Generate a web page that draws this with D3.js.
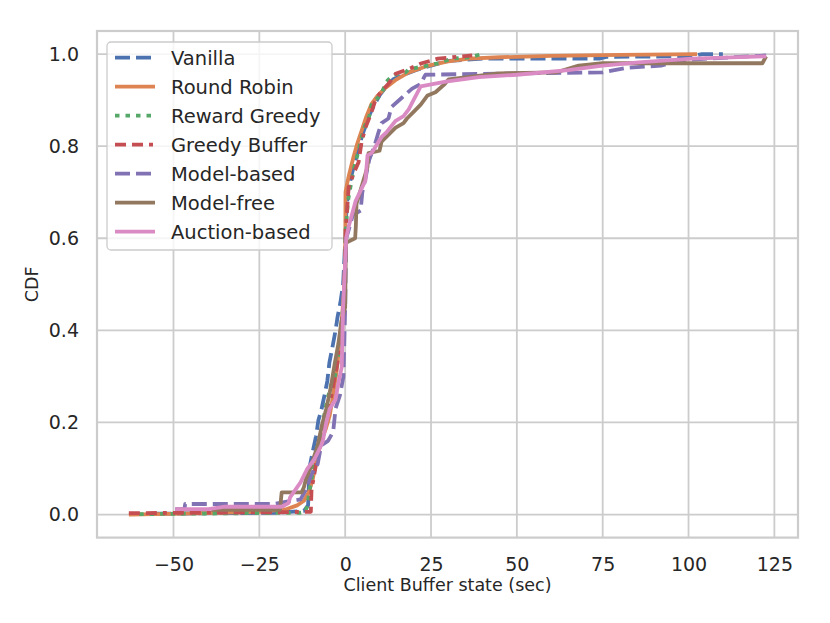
<!DOCTYPE html>
<html>
<head>
<meta charset="utf-8">
<script src="https://cdn.jsdelivr.net/npm/d3@7"></script>
<style>
  body { margin: 0; background: #fff; }
  text { font-family: "DejaVu Sans", sans-serif; fill: #262626; }
</style>
</head>
<body>
<svg id="chart"></svg>
<script>
var width = 830;
var height = 623;

// series names, in plotting order
var names = ['Vanilla', 'Round Robin', 'Reward Greedy', 'Greedy Buffer',
             'Model-based', 'Model-free', 'Auction-based'];

var vanilla = [[-55,0.002],[-20,0.004],[-12,0.008],[-10.8,0.02],[-10.6,0.06],[-10.3,0.105],[-9.5,0.135],
  [-8.5,0.17],[-7.8,0.205],[-7,0.225],[-6,0.26],[-5.2,0.29],[-4.6,0.33],[-3.8,0.36],[-2.8,0.40],
  [-2.2,0.43],[-1.4,0.46],[-0.6,0.5],[-0.2,0.56],[0.2,0.64],[0.8,0.7],[1.8,0.735],[2.8,0.765],
  [3.8,0.79],[4.8,0.82],[6,0.845],[7.2,0.87],[8.5,0.89],[10,0.91],[12,0.93],[14,0.945],[17,0.955],
  [20.5,0.965],[25,0.975],[30,0.985],[40,0.99],[74,0.99],[76,0.994],[101,0.995],[104,1.0],[110,1.0]];

var roundRobin = [[-63,0],[-40,0.003],[-25,0.006],[-17,0.012],[-14,0.02],[-12,0.03],[-10.5,0.05],
  [-9.5,0.075],[-8.7,0.105],[-7.8,0.135],[-7,0.16],[-5.7,0.185],[-4.5,0.215],[-3.5,0.26],[-2.5,0.31],
  [-1.8,0.36],[-1.0,0.42],[-0.4,0.48],[0,0.55],[0.1,0.70],[0.6,0.72],[1.2,0.74],[2.4,0.776],
  [3.5,0.805],[4.8,0.834],[6.2,0.865],[7.7,0.892],[9.5,0.91],[11.8,0.927],[15,0.945],[18.5,0.96],
  [24.3,0.975],[30,0.984],[36,0.99],[45,0.993],[60,0.996],[80,0.998],[102.5,1.0]];

var rewardGreedy = [[-60,0.001],[-13,0.004],[-11.5,0.006],[-10.8,0.03],[-10.2,0.06],[-9.5,0.09],
  [-8.7,0.135],[-7.5,0.16],[-6.5,0.2],[-5.5,0.24],[-4.2,0.28],[-3,0.3],[-2,0.34],[-1.2,0.4],
  [-0.5,0.46],[0,0.55],[0.2,0.62],[0.8,0.68],[1.5,0.71],[2.5,0.75],[3.9,0.79],[4.8,0.82],
  [5.8,0.845],[7,0.865],[7.7,0.89],[9.5,0.905],[10.6,0.915],[12,0.94],[14,0.955],[17.6,0.96],
  [18.5,0.967],[22,0.972],[27.2,0.98],[31,0.99],[36,0.993],[40,1.0]];

var greedyBuffer = [[-63,0.003],[-20,0.005],[-10,0.006],[-9.8,0.055],[-9.3,0.075],[-8.7,0.1],
  [-8,0.13],[-7,0.16],[-6,0.19],[-5,0.22],[-4,0.26],[-3,0.3],[-2,0.34],[-1.3,0.39],[-0.5,0.45],
  [0,0.55],[0.2,0.62],[1,0.71],[2.4,0.74],[3.9,0.765],[4.8,0.81],[5.9,0.84],[7.5,0.87],[8.8,0.9],
  [10.6,0.92],[12.6,0.935],[14.7,0.957],[19.3,0.97],[22.3,0.98],[27,0.99],[31,0.993],[37,0.997]];

var modelBased = [[-49.5,0.012],[-46.8,0.012],[-46.6,0.023],[-21,0.023],[-17,0.028],[-13,0.033],
  [-11,0.06],[-10,0.085],[-8,0.11],[-7,0.15],[-5,0.16],[-3.5,0.18],[-2.8,0.23],[-1.5,0.26],
  [-0.5,0.3],[0,0.45],[0.3,0.6],[1.5,0.63],[2.2,0.65],[4.5,0.66],[5,0.7],[5.9,0.73],[7,0.77],
  [8.5,0.8],[9.7,0.83],[10.6,0.85],[12.6,0.86],[13.5,0.885],[16.5,0.905],[18,0.915],[19.5,0.925],
  [22,0.935],[23,0.95],[23.4,0.955],[40,0.957],[75,0.96],[82,0.97],[92,0.975],[97,0.985],
  [101,0.988],[122.6,0.997]];

var modelFree = [[-39,0.01],[-19,0.01],[-18.5,0.048],[-12.7,0.048],[-12,0.06],[-11.5,0.075],
  [-10,0.105],[-8,0.15],[-6.9,0.19],[-5.5,0.23],[-4.5,0.265],[-4.0,0.285],[-3,0.33],[-2,0.37],
  [-1.1,0.42],[0,0.45],[0.2,0.59],[2.9,0.6],[3.1,0.625],[3.3,0.675],[4.5,0.705],[5.9,0.74],
  [6.5,0.755],[6.8,0.785],[10,0.79],[10.6,0.81],[12,0.82],[14.7,0.84],[17,0.85],[18,0.86],
  [20,0.875],[22,0.89],[24,0.91],[26.3,0.917],[29,0.935],[30.1,0.945],[44.7,0.958],[61.3,0.96],
  [68,0.975],[75,0.98],[121.5,0.98],[122.6,0.995]];

var auctionBased = [[-49.5,0.012],[-39.8,0.012],[-35,0.017],[-18.5,0.017],[-16.5,0.025],[-16,0.038],
  [-13,0.07],[-12,0.085],[-11,0.1],[-9,0.12],[-7,0.15],[-6.5,0.16],[-5.5,0.2],[-4.5,0.23],
  [-2.8,0.25],[-2,0.285],[-1,0.32],[-0.6,0.45],[0,0.55],[0.3,0.6],[1,0.625],[3,0.68],[5.9,0.725],
  [6.5,0.78],[7.7,0.785],[10.6,0.82],[12,0.83],[14.7,0.855],[17,0.865],[18.5,0.88],[19.9,0.9],
  [22,0.93],[29.3,0.94],[38.9,0.95],[50,0.955],[65,0.965],[75,0.975],[85.5,0.982],[101,0.99],
  [122.6,0.995]];

var seriesData = [vanilla, roundRobin, rewardGreedy, greedyBuffer, modelBased, modelFree, auctionBased];

var xTicks = [-50, -25, 0, 25, 50, 75, 100, 125];
var yTicks = [0.0, 0.2, 0.4, 0.6, 0.8, 1.0];

// seaborn "deep" palette + matplotlib line styles
var colors = ['#4c72b0', '#dd8452', '#55a868', '#c44e52', '#8172b3', '#937860', '#da8bc3'];
var dashes = ['15,6', null, '4.5,6', '11,6,11,6,4,6', '15,6', null, null];

var margin = {left: 97, right: 32, top: 31, bottom: 85.4};
var plotW = width - margin.left - margin.right;
var plotH = height - margin.top - margin.bottom;

var svg = d3.select('#chart')
    .attr('width', width)
    .attr('height', height);

// 5% margins round the data, like matplotlib
var allPts = d3.merge(seriesData);
var xExt = d3.extent(allPts, function(d){ return d[0]; });
var xPad = (xExt[1] - xExt[0]) * 0.05;

var x = d3.scaleLinear()
    .domain([xExt[0] - xPad, xExt[1] + xPad])
    .range([margin.left, margin.left + plotW]);

var y = d3.scaleLinear()
    .domain([-0.05, 1.05])
    .range([margin.top + plotH, margin.top]);

// grid
var grid = svg.append('g');
grid.selectAll('.vg')
    .data(xTicks)
    .enter().append('line')
    .attr('x1', function(d){ return x(d); })
    .attr('x2', function(d){ return x(d); })
    .attr('y1', margin.top)
    .attr('y2', margin.top + plotH)
    .style('stroke', '#cccccc')
    .style('stroke-width', 1.8);
grid.selectAll('.hg')
    .data(yTicks)
    .enter().append('line')
    .attr('x1', margin.left)
    .attr('x2', margin.left + plotW)
    .attr('y1', function(d){ return y(d); })
    .attr('y2', function(d){ return y(d); })
    .style('stroke', '#cccccc')
    .style('stroke-width', 1.8);

svg.append('clipPath').attr('id', 'clip')
    .append('rect')
    .attr('x', margin.left).attr('y', margin.top)
    .attr('width', plotW).attr('height', plotH);

var line = d3.line()
    .x(function(d){ return x(d[0]); })
    .y(function(d){ return y(d[1]); });

svg.append('g').attr('clip-path', 'url(#clip)')
    .selectAll('path')
    .data(seriesData)
    .enter().append('path')
    .attr('d', line)
    .style('fill', 'none')
    .style('stroke', function(d, i){ return colors[i]; })
    .style('stroke-width', 3.8)
    .style('stroke-linejoin', 'round')
    .style('stroke-dasharray', function(d, i){ return dashes[i]; });

// frame
svg.append('rect')
    .attr('x', margin.left).attr('y', margin.top)
    .attr('width', plotW).attr('height', plotH)
    .style('fill', 'none')
    .style('stroke', '#cccccc')
    .style('stroke-width', 2.2);

// axes, matplotlib-like labels with no tick marks
var fmtX = function(d){ return d < 0 ? '\u2212' + Math.abs(d) : String(d); };

var xAxis = svg.append('g')
    .attr('transform', 'translate(0,' + (margin.top + plotH) + ')')
    .call(d3.axisBottom(x).tickValues(xTicks).tickFormat(fmtX).tickSize(0).tickPadding(20));
xAxis.select('.domain').remove();
xAxis.selectAll('text')
    .style('font-size', '19px')
    .style('fill', '#262626');

var yAxis = svg.append('g')
    .attr('transform', 'translate(' + margin.left + ',0)')
    .call(d3.axisLeft(y).tickValues(yTicks).tickFormat(d3.format('.1f')).tickSize(0).tickPadding(18));
yAxis.select('.domain').remove();
yAxis.selectAll('text')
    .style('font-size', '19px')
    .style('fill', '#262626');

svg.selectAll('.tick text').style('font-family', '"DejaVu Sans", sans-serif');

svg.append('text')
    .attr('x', margin.left + plotW / 2)
    .attr('y', 591)
    .attr('text-anchor', 'middle')
    .style('font-size', '17.5px')
    .text('Client Buffer state (sec)');

svg.append('text')
    .attr('transform', 'translate(38,' + (margin.top + plotH / 2) + ') rotate(-90)')
    .attr('text-anchor', 'middle')
    .style('font-size', '17.5px')
    .text('CDF');

// legend
var legend = svg.append('g');
legend.append('rect')
    .attr('x', 107).attr('y', 42)
    .attr('width', 225).attr('height', 208)
    .attr('rx', 4)
    .style('fill', 'white')
    .style('fill-opacity', 0.8)
    .style('stroke', '#cccccc')
    .style('stroke-width', 1.3);

var rows = legend.selectAll('.row')
    .data(names)
    .enter().append('g')
    .attr('transform', function(d, i){ return 'translate(0,' + (57.7 + i * 29) + ')'; });

rows.append('line')
    .attr('x1', 115).attr('x2', 155)
    .style('stroke', function(d, i){ return colors[i]; })
    .style('stroke-width', 3.8)
    .style('stroke-dasharray', function(d, i){ return dashes[i]; });

rows.append('text')
    .attr('x', 171)
    .attr('dy', '0.36em')
    .style('font-size', '19.5px')
    .text(function(d){ return d; });
</script>
</body>
</html>
